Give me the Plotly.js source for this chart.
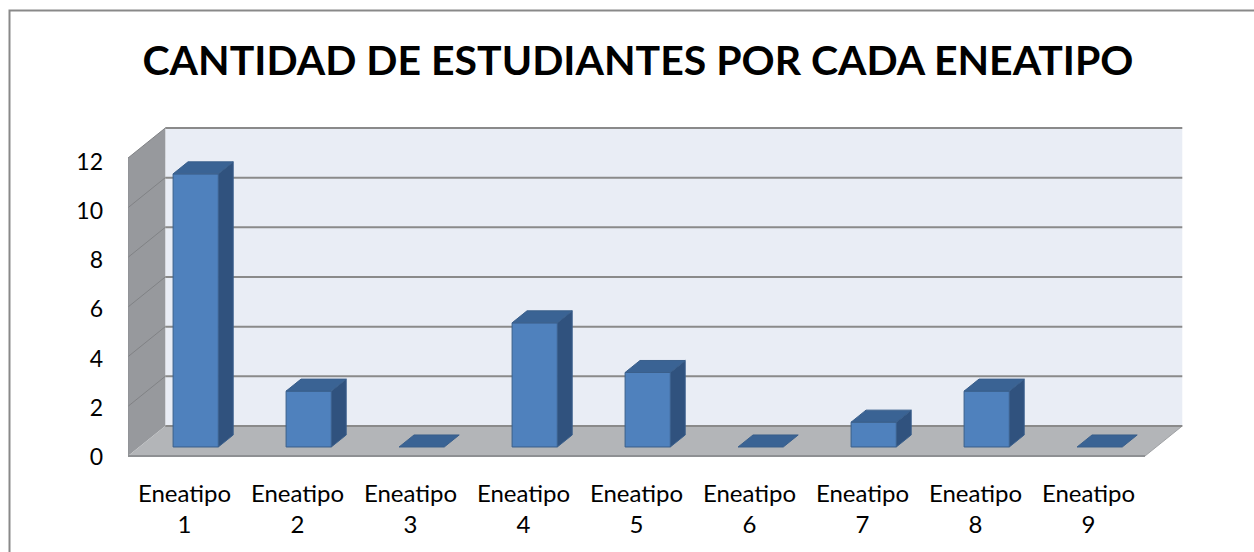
<!DOCTYPE html>
<html><head><meta charset="utf-8">
<script src="https://cdn.plot.ly/plotly-3.0.1.min.js"></script>
<style>html,body{margin:0;padding:0;background:#fff;overflow:hidden}</style>
</head><body>
<div id="chart" style="width:1254px;height:552px"></div>
<script>
// ---- data ----
const categories = ["Eneatipo<br>1","Eneatipo<br>2","Eneatipo<br>3","Eneatipo<br>4","Eneatipo<br>5","Eneatipo<br>6","Eneatipo<br>7","Eneatipo<br>8","Eneatipo<br>9"];
const values = [11, 2.25, 0, 5, 3, 0, 1, 2.25, 0];
const yTicks = [0, 2, 4, 6, 8, 10, 12];
const chartTitle = "CANTIDAD DE ESTUDIANTES POR CADA ENEATIPO";

// ---- 3D-look geometry (data units) ----
const DX = 0.33, DY = 1.21;        // full depth offset of the box
const BW = 0.40;                   // bar width
const F0 = 0.30, G = 0.40;         // bar front depth fraction and bar depth fraction
const YMAX = 12;
const n = categories.length;
const X0 = -0.5, X1 = n - 0.5;

// pixel layout of plot area
const M = {l:128, r:59, t:120, b:92};
const W = 1254, H = 552;
const pxPerCat = 113, pxPerUnit = 24.83, frontZeroPx = 456;
const plotW = W - M.l - M.r, plotH = H - M.t - M.b;
const xRange = [X0, X0 + plotW / pxPerCat];
const yRange = [(frontZeroPx - (H - M.b)) / pxPerUnit, (frontZeroPx - M.t) / pxPerUnit];
const lbl0 = 457, lblPerUnit = 24.6;
const y2Range = [(lbl0 - (H - M.b)) / lblPerUnit, (lbl0 - M.t) / lblPerUnit];

function poly(pts){ return "M" + pts.map(p => p[0] + "," + p[1]).join(" L") + " Z"; }

const shapes = [];
shapes.push({type:"path", xref:"x", yref:"y", layer:"below", line:{width:0},
  fillcolor:"#E9EDF5", path: poly([[X0+DX,DY],[X1+DX,DY],[X1+DX,YMAX+DY],[X0+DX,YMAX+DY]])});
shapes.push({type:"path", xref:"x", yref:"y", layer:"below", line:{width:0},
  fillcolor:"#97999D", path: poly([[X0,0],[X0+DX,DY],[X0+DX,YMAX+DY],[X0,YMAX]])});
shapes.push({type:"path", xref:"x", yref:"y", layer:"below", line:{width:0},
  fillcolor:"#B3B5B8", path: poly([[X0,0],[X1,0],[X1+DX,DY],[X0+DX,DY]])});
shapes.push({type:"line", xref:"x", yref:"y", layer:"below", x0:X0, y0:0, x1:X1, y1:0,
  line:{color:"#8E9093", width:2}});
shapes.push({type:"line", xref:"x", yref:"y", layer:"below", x0:X1, y0:0, x1:X1+DX, y1:DY,
  line:{color:"#A0A2A5", width:1}});
yTicks.forEach(k => {
  shapes.push({type:"line", xref:"x", yref:"y", layer:"below", x0:X0+DX, y0:k+DY, x1:X1+DX, y1:k+DY,
    line:{color:"#8A8A8A", width:2}});
  if (k > 0) shapes.push({type:"line", xref:"x", yref:"y", layer:"below", x0:X0, y0:k, x1:X0+DX, y1:k+DY,
    line:{color:"#808285", width:1}});
});
shapes.push({type:"line", xref:"x", yref:"y", layer:"below", x0:X0, y0:0, x1:X0, y1:YMAX,
  line:{color:"#8E9093", width:1}});
shapes.push({type:"rect", xref:"paper", yref:"paper",
  x0:(9.5-M.l)/plotW, x1:(1300-M.l)/plotW, y0:((H-M.b)-600)/plotH, y1:((H-M.b)-10.5)/plotH,
  line:{color:"#898989", width:2}, fillcolor:"rgba(0,0,0,0)", layer:"below"});

const traces = [];
const outline = "#3A5F8B";
values.forEach((v, i) => {
  const cx = i + F0*DX, b = F0*DY;
  const xl = cx - BW/2, xr = cx + BW/2;
  const ox = G*DX, oy = G*DY;
  const face = (pts, color) => traces.push({
    type:"scatter", mode:"lines", fill:"toself", fillcolor:color,
    x: pts.map(p=>p[0]).concat([pts[0][0]]), y: pts.map(p=>p[1]).concat([pts[0][1]]),
    line:{color: outline, width:1}, hoverinfo:"skip", showlegend:false, xaxis:"x", yaxis:"y"
  });
  if (v > 0) {
    face([[xr,b],[xr+ox,b+oy],[xr+ox,b+oy+v],[xr,b+v]], "#30527E");
    face([[xl,b],[xr,b],[xr,b+v],[xl,b+v]], "#4F81BD");
  }
  face([[xl,b+v],[xr,b+v],[xr+ox,b+v+oy],[xl+ox,b+v+oy]], "#3A6394");
});
traces.push({type:"scatter", x:[0], y:[0], yaxis:"y2", mode:"markers", marker:{opacity:0}, hoverinfo:"skip", showlegend:false});

const fam = "Lato, 'Open Sans', sans-serif";
const layout = {
  width:W, height:H, margin:M, paper_bgcolor:"#fff", plot_bgcolor:"rgba(0,0,0,0)",
  showlegend:false,
  title:{text:chartTitle, font:{family:fam, size:41, weight:700, color:"#000"},
    xref:"container", x:638/W, xanchor:"center", yref:"container", y:1-61/H, yanchor:"middle"},
  xaxis:{range:xRange, tickvals:categories.map((c,i)=>i), ticktext:categories, showgrid:false, zeroline:false,
    showline:false, ticks:"", tickfont:{family:fam, size:24, color:"#000"}, ticklabelstandoff:17, fixedrange:true},
  yaxis:{range:yRange, visible:false, showgrid:false, zeroline:false, fixedrange:true},
  yaxis2:{range:y2Range, overlaying:"y", side:"left", anchor:"x", tickvals:yTicks, ticktext:yTicks.map(String),
    showgrid:false, zeroline:false, showline:false, ticks:"", tickfont:{family:fam, size:23, color:"#000"},
    ticklabelstandoff:24, fixedrange:true},
  shapes:shapes
};
Plotly.newPlot("chart", traces, layout, {displayModeBar:false, staticPlot:true});
</script>
</body></html>
